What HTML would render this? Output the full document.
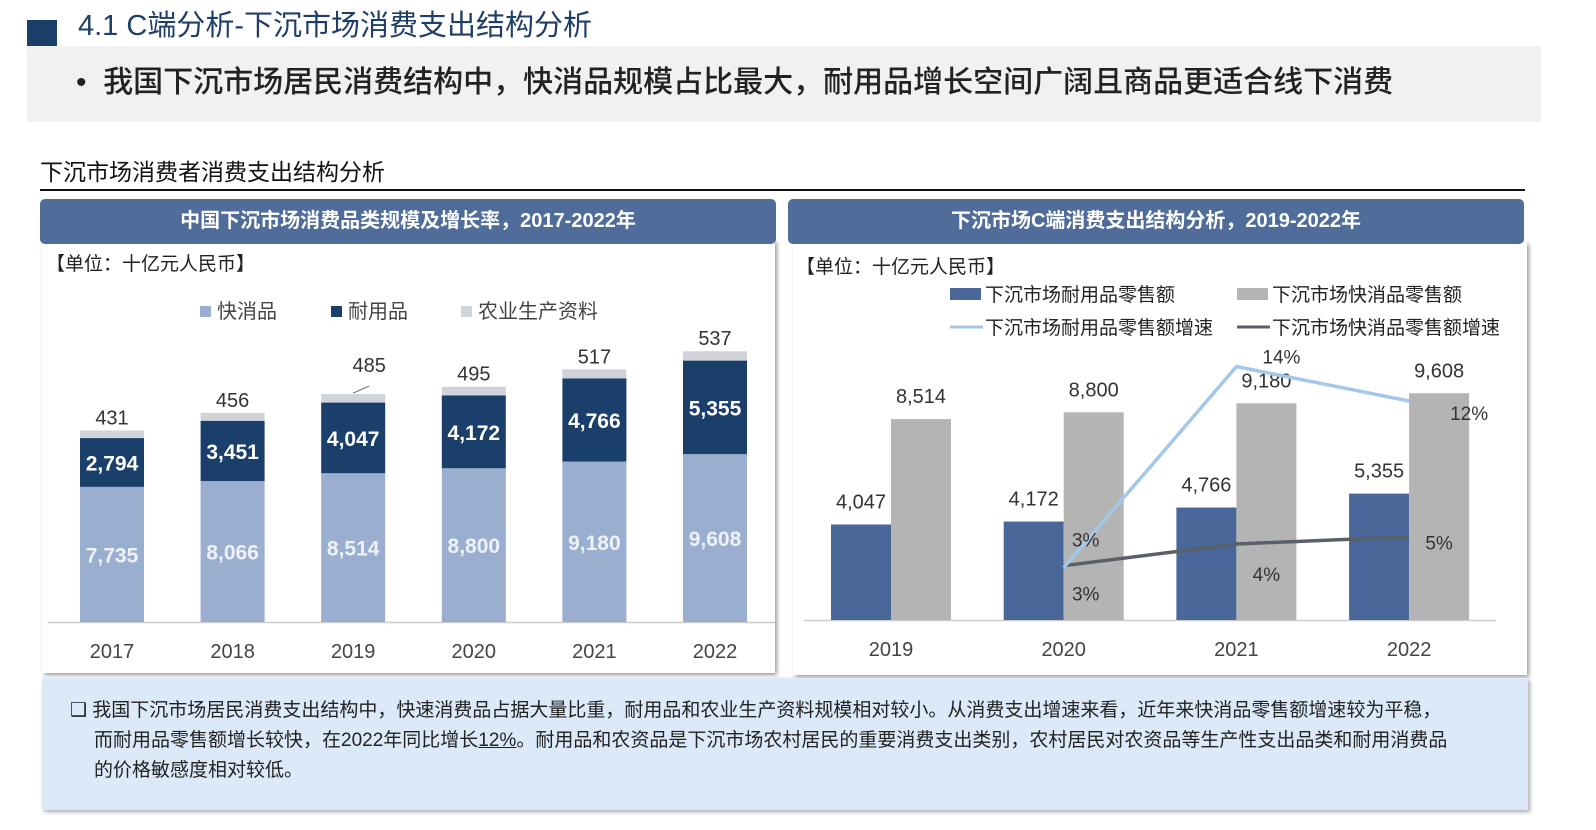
<!DOCTYPE html>
<html><head><meta charset="utf-8">
<style>
body{margin:0;width:1596px;height:830px;background:#fff;overflow:hidden;font-family:"Liberation Sans","Noto Sans CJK SC",sans-serif;position:relative}
.abs{position:absolute}
</style></head><body>
<div class="abs" style="left:27px;top:20px;width:30px;height:37px;background:#1a3f68"></div>
<div class="abs" style="left:27px;top:46px;width:1514px;height:76px;background:#f1f1f1"></div>
<div class="abs" style="left:78px;top:7px;font-size:29px;color:#1f3e68;line-height:38px;white-space:nowrap">4.1 C端分析-下沉市场消费支出结构分析</div>
<div class="abs" style="left:76px;top:63px;font-size:30px;color:#222;line-height:40px;white-space:nowrap;font-weight:500">•&nbsp; 我国下沉市场居民消费结构中，快消品规模占比最大，耐用品增长空间广阔且商品更适合线下消费</div>
<div class="abs" style="left:40px;top:156px;font-size:23px;color:#111;line-height:32px;white-space:nowrap">下沉市场消费者消费支出结构分析</div>
<div class="abs" style="left:40px;top:189px;width:1485px;height:2px;background:#111"></div>

<div class="abs" style="left:42px;top:240px;width:733px;height:433px;background:#fff;box-shadow:2px 2px 4px #999"></div>
<div class="abs" style="left:793px;top:242px;width:734px;height:433px;background:#fff;box-shadow:2px 2px 4px #999"></div>
<div class="abs" style="left:40px;top:199px;width:736px;height:45px;background:#4f6c9a;border-radius:5px;color:#fff;font-size:20px;font-weight:bold;text-align:center;line-height:45px">中国下沉市场消费品类规模及增长率，2017-2022年</div>
<div class="abs" style="left:788px;top:199px;width:736px;height:45px;background:#4f6c9a;border-radius:5px;color:#fff;font-size:20px;font-weight:bold;text-align:center;line-height:45px">下沉市场C端消费支出结构分析，2019-2022年</div>

<svg class="abs" style="left:0;top:0" width="1596" height="830" font-family="Liberation Sans, Noto Sans CJK SC, sans-serif">
<g id="left"></g><g id="right"></g>
</svg>

<div class="abs" style="left:42px;top:678px;width:1486px;height:132px;background:#dce9f9;box-shadow:2px 2px 4px #aaa"></div>
<div class="abs" style="left:70px;top:696px;width:1440px;font-size:19px;line-height:30px;color:#222">
<div style="white-space:nowrap">❑ 我国下沉市场居民消费支出结构中，快速消费品占据大量比重，耐用品和农业生产资料规模相对较小。从消费支出增速来看，近年来快消品零售额增速较为平稳，</div>
<div style="white-space:nowrap;padding-left:24px">而耐用品零售额增长较快，在2022年同比增长<u>12%</u>。耐用品和农资品是下沉市场农村居民的重要消费支出类别，农村居民对农资品等生产性支出品类和耐用消费品</div>
<div style="white-space:nowrap;padding-left:24px">的价格敏感度相对较低。</div>
</div>

<script>
const leftYears=['2017','2018','2019','2020','2021','2022'];
const fastVals=[7735,8066,8514,8800,9180,9608];
const durVals=[2794,3451,4047,4172,4766,5355];
const agriVals=[431,456,485,495,517,537];
const rightYears=['2019','2020','2021','2022'];
const rDur=[4047,4172,4766,5355];
const rFast=[8514,8800,9180,9608];
const durGrowth=[null,2.9,14.0,12.1];
const fastGrowth=[null,3.0,4.2,4.6];
const durGrowthLbl=[null,'3%','14%','12%'];
const fastGrowthLbl=[null,'3%','4%','5%'];

const NS='http://www.w3.org/2000/svg';
function mk(p,tag,at,txt){const e=document.createElementNS(NS,tag);for(const k in at)e.setAttribute(k,at[k]);if(txt!=null)e.textContent=txt;p.appendChild(e);return e;}
const fmt=v=>v.toLocaleString('en-US');

// left chart
const L=document.getElementById('left');
const lx=i=>112+i*120.6, ly=v=>622-v*0.01747, bw=64;
let t=mk(L,'text',{x:46,y:270,'font-size':19,fill:'#222'},'【单位：十亿元人民币】');

const lleg=[['快消品','#9aafcf',200],['耐用品','#1b3f6b',331],['农业生产资料','#d0d4da',461]];
lleg.forEach(l=>{let r=mk(L,'rect',{x:l[2],y:306,width:11,height:11,fill:l[1]});

let tx=mk(L,'text',{x:l[2]+17,y:318,'font-size':20,fill:'#444'},l[0]);
});
mk(L,'line',{x1:48,x2:775,y1:622.5,y2:622.5,stroke:'#ccc','stroke-width':1.5});
leftYears.forEach((y,i)=>{
 const x=lx(i)-bw/2;
 const y1=ly(fastVals[i]), y2=ly(fastVals[i]+durVals[i]), y3=ly(fastVals[i]+durVals[i]+agriVals[i]);
 let r=mk(L,'rect',{x:x,y:y1,width:bw,height:622-y1,fill:'#9aafcf'});
 r=mk(L,'rect',{x:x,y:y2,width:bw,height:y1-y2,fill:'#1b3f6b'});
 r=mk(L,'rect',{x:x,y:y3,width:bw,height:y2-y3,fill:'#d0d4da'});
 let a=mk(L,'text',{x:lx(i),y:(y1+622)/2+8,'font-size':21,fill:'#eef2f8','font-weight':'bold','text-anchor':'middle'},fmt(fastVals[i]));
 a=mk(L,'text',{x:lx(i),y:(y1+y2)/2+8,'font-size':21,fill:'#fff','font-weight':'bold','text-anchor':'middle'},fmt(durVals[i]));
 const off=i==2?22:6;
 a=mk(L,'text',{x:lx(i)+(i==2?16:0),y:y3-off,'font-size':20,fill:'#333','text-anchor':'middle'},fmt(agriVals[i]));
 if(i==2)mk(L,'line',{x1:lx(i),y1:y3-1,x2:lx(i)+16,y2:y3-8,stroke:'#666'});
 a=mk(L,'text',{x:lx(i),y:658,'font-size':20,fill:'#444','text-anchor':'middle'},y);
});

// right chart
const R=document.getElementById('right');
const rx=i=>891+i*172.7, ry=v=>620-v*0.0236, rp=p=>620-p*18.1, rbw=60;
t=mk(R,'text',{x:796,y:273,'font-size':19,fill:'#222'},'【单位：十亿元人民币】');

const rleg=[['下沉市场耐用品零售额','rect','#4a6799',950,294],['下沉市场快消品零售额','rect','#b4b4b4',1237,294],['下沉市场耐用品零售额增速','line','#a4c8ea',950,327],['下沉市场快消品零售额增速','line','#5a6068',1237,327]];
rleg.forEach(l=>{let s;
 if(l[1]=='rect')s=mk(R,'rect',{x:l[3],y:l[4]-6,width:31,height:12,fill:l[2]});
 else s=mk(R,'line',{x1:l[3],x2:l[3]+33,y1:l[4],y2:l[4],stroke:l[2],'stroke-width':3});
 
 let tx=mk(R,'text',{x:l[3]+35,y:l[4]+7,'font-size':19,fill:'#222'},l[0]);
 });
mk(R,'line',{x1:804,x2:1496,y1:620.5,y2:620.5,stroke:'#ccc','stroke-width':1.5});
rightYears.forEach((y,i)=>{
 const c=rx(i);
 let r=mk(R,'rect',{x:c-rbw,y:ry(rDur[i]),width:rbw,height:620-ry(rDur[i]),fill:'#4a6799'});
 r=mk(R,'rect',{x:c,y:ry(rFast[i]),width:rbw,height:620-ry(rFast[i]),fill:'#b4b4b4'});
 let a=mk(R,'text',{x:c-30,y:ry(rDur[i])-16,'font-size':20,fill:'#333','text-anchor':'middle'},fmt(rDur[i]));
 a=mk(R,'text',{x:c+30,y:ry(rFast[i])-16,'font-size':20,fill:'#333','text-anchor':'middle'},fmt(rFast[i]));
 a=mk(R,'text',{x:c,y:656,'font-size':20,fill:'#444','text-anchor':'middle'},y);
});
function line(vals,color,name){let pts=[];vals.forEach((v,i)=>{if(v!=null)pts.push(rx(i)+','+rp(v));});
 const p=mk(R,'polyline',{points:pts.join(' '),fill:'none',stroke:color,'stroke-width':3.5});}
line(fastGrowth,'#5a6068','line-fast-growth');
line(durGrowth,'#a4c8ea','line-durable-growth');
const dOff=[null,[22,-28],[45,-10],[60,12]], fOff=[null,[22,28],[30,30],[30,6]];
durGrowthLbl.forEach((l,i)=>{if(!l)return;let a=mk(R,'text',{x:rx(i)+dOff[i][0],y:rp(durGrowth[i])+dOff[i][1]+7,'font-size':19,fill:'#333','text-anchor':'middle'},l);});
fastGrowthLbl.forEach((l,i)=>{if(!l)return;let a=mk(R,'text',{x:rx(i)+fOff[i][0],y:rp(fastGrowth[i])+fOff[i][1]+7,'font-size':19,fill:'#333','text-anchor':'middle'},l);});
</script>
</body></html>
